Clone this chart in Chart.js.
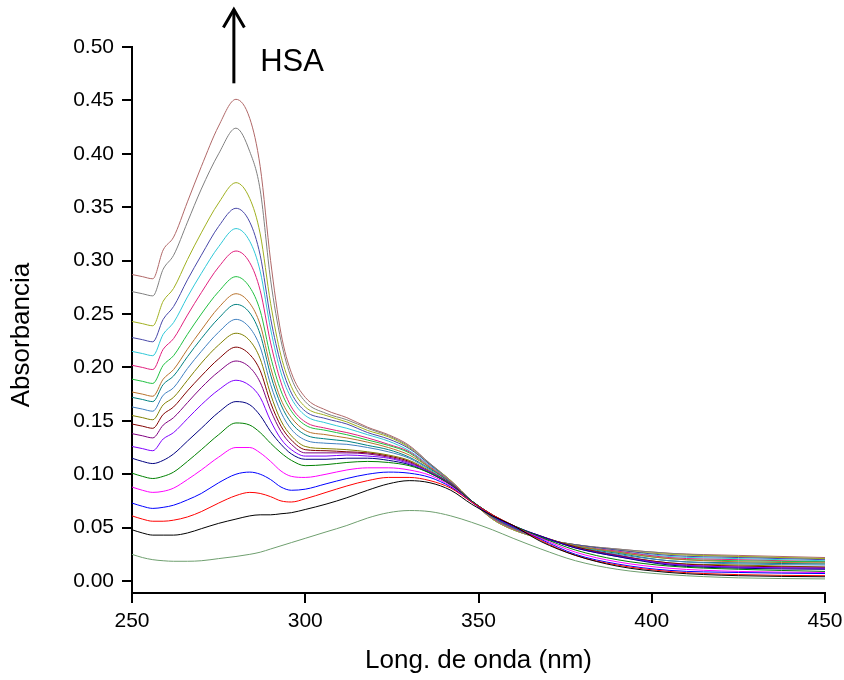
<!DOCTYPE html>
<html>
<head>
<meta charset="utf-8">
<title>Absorbancia vs longitud de onda</title>
<script src="https://cdn.jsdelivr.net/npm/chart.js@4.4.1/dist/chart.umd.min.js"></script>
<style>
  html, body { margin: 0; padding: 0; background: #fff; }
  #wrap { width: 844px; height: 680px; }
</style>
</head>
<body>
<div id="wrap"><canvas id="chart" width="844" height="680"></canvas></div>
<script>
// wavelength grid (nm) shared by every spectrum
const wavelength = [250, 253, 256, 259, 262, 266, 270, 275, 280, 284, 287, 290, 293, 296, 300,
  306, 312, 318, 324, 330, 336, 342, 348, 354, 360, 368, 378, 390, 405, 425, 450];

// spectra, from the ligand alone (bottom) up to the highest HSA amount (top)
const absLigand = [.025,.022,.020,.019,.0185,.0185,.019,.021,.023,.025, .027,.030,.033,.036,.040, .046,.052,.059,.064,.066, .065,.061,.055,.048,.040, .030,.019,.011,.006,.003, .002];
const absBlack  = [.048,.045,.043,.043,.043,.045,.049,.054,.058,.061, .062,.062,.063,.064,.067, .072,.078,.085,.091,.094, .092,.085,.072,.061,.052, .037,.024,.014,.008,.005, .004];
const absRed    = [.061,.058,.056,.056,.057,.060,.065,.073,.080,.083, .082,.079,.075,.074,.077, .083,.089,.094,.097,.097, .094,.087,.074,.062,.052, .038,.024,.015,.009,.006, .005];
const absBlue   = [.073,.070,.068,.069,.071,.076,.082,.092,.100,.102, .100,.095,.088,.085,.086, .091,.096,.100,.102,.101, .097,.088,.074,.061,.051, .039,.025,.016,.010,.008, .007];
const absMagenta= [.088,.085,.083,.084,.087,.095,.104,.116,.125,.125, .120,.112,.103,.098,.097, .100,.104,.106,.106,.104, .099,.089,.074,.061,.051, .040,.027,.018,.012,.009, .008];
const absGreen  = [.101,.098,.096,.098,.102,.112,.123,.137,.148,.146, .139,.129,.120,.113,.108, .109,.111,.112,.111,.108, .101,.090,.075,.062,.052, .041,.029,.020,.014,.011, .009];
const absNavy   = [.115,.112,.110,.113,.119,.131,.143,.158,.168,.165, .155,.140,.128,.119,.114, .114,.115,.115,.113,.109, .101,.090,.075,.062,.052, .042,.031,.023,.015,.012, .011];
const absViolet = [.126,.124,.122,.133,.139,.152,.165,.179,.188,.183, .172,.150,.133,.123,.117, .117,.118,.117,.115,.110, .102,.090,.075,.062,.052, .042,.031,.023,.016,.013, .012];
const absPurple = [.138,.136,.134,.146,.153,.167,.181,.196,.206,.200, .186,.160,.140,.128,.120, .120,.120,.119,.116,.111, .102,.091,.075,.061,.051, .042,.031,.024,.016,.013, .012];
const absWine   = [.147,.145,.143,.156,.163,.178,.192,.208,.219,.212, .197,.167,.145,.132,.123, .122,.121,.120,.117,.112, .102,.091,.075,.061,.051, .042,.032,.024,.017,.014, .013];
const absOlive  = [.155,.153,.151,.165,.172,.188,.204,.221,.232,.225, .208,.175,.150,.136,.126, .124,.123,.121,.118,.113, .103,.091,.075,.061,.051, .042,.032,.024,.017,.015, .013];
const absSteel  = [.163,.161,.159,.174,.181,.199,.215,.233,.245,.237, .219,.184,.158,.142,.132, .129,.128,.125,.121,.115, .104,.091,.075,.061,.051, .041,.032,.025,.019,.016, .015];
const absTeal   = [.172,.170,.168,.184,.192,.210,.227,.246,.259,.251, .231,.193,.165,.148,.137, .133,.131,.127,.123,.116, .105,.092,.075,.060,.050, .041,.032,.026,.019,.017, .016];
const absOrange = [.177,.175,.173,.189,.198,.217,.235,.256,.269,.260, .240,.200,.170,.153,.141, .137,.134,.130,.125,.118, .106,.092,.075,.060,.050, .041,.033,.027,.021,.018, .017];
const absLime   = [.189,.187,.185,.202,.211,.231,.250,.271,.285,.275, .253,.210,.178,.159,.146, .141,.137,.132,.127,.120, .106,.092,.075,.060,.050, .041,.033,.027,.021,.019, .018];
const absPink   = [.202,.200,.198,.217,.227,.249,.270,.294,.309,.298, .272,.223,.186,.163,.149, .143,.139,.134,.128,.121, .107,.093,.075,.059,.049, .041,.033,.028,.022,.020, .018];
const absCyan   = [.215,.213,.211,.231,.242,.266,.288,.313,.330,.318, .290,.236,.195,.171,.155, .148,.143,.137,.131,.122, .108,.093,.075,.059,.049, .041,.033,.028,.023,.021, .019];
const absIndigo = [.228,.226,.224,.245,.257,.282,.305,.332,.349,.336, .305,.246,.203,.176,.159, .152,.147,.139,.133,.124, .109,.093,.075,.059,.049, .040,.034,.029,.024,.022, .020];
const absYellow = [.243,.241,.239,.262,.274,.301,.326,.354,.373,.358, .325,.260,.211,.182,.163, .155,.149,.141,.135,.125, .109,.094,.075,.058,.048, .040,.034,.029,.025,.023, .021];
const absGray   = [.271,.269,.267,.292,.305,.336,.367,.400,.424,.402, .366,.282,.225,.190,.168, .157,.151,.143,.136,.126, .110,.094,.075,.058,.048, .040,.034,.030,.026,.023, .021];
const absRose   = [.287,.285,.283,.310,.322,.355,.388,.426,.451,.433, .388,.300,.232,.195,.172, .160,.153,.144,.137,.127, .110,.094,.075,.058,.048, .040,.034,.030,.026,.024, .022];

const spectra = [absLigand, absBlack, absRed, absBlue, absMagenta, absGreen, absNavy, absViolet,
  absPurple, absWine, absOlive, absSteel, absTeal, absOrange, absLime, absPink, absCyan,
  absIndigo, absYellow, absGray, absRose];
const colors = ['#6f9f6f', '#000000', '#ff0000', '#0000ff', '#ff00ff', '#008000', '#000080', '#8000ff',
  '#800080', '#800000', '#808000', '#4080c0', '#008080', '#b8722c', '#20c040', '#e0207e', '#30c8d8',
  '#4848a8', '#a0b020', '#808080', '#b06868'];

const xTicks = [250, 300, 350, 400, 450];
const yTicks = [0, 0.05, 0.10, 0.15, 0.20, 0.25, 0.30, 0.35, 0.40, 0.45, 0.50];
const xTitle = "Long. de onda (nm)";
const yTitle = "Absorbancia";
const arrowLabel = "HSA";

const FONT = '"Liberation Sans", Arial, Helvetica, sans-serif';

const datasets = spectra.map((vals, i) => ({
  data: vals.map((v, k) => ({ x: wavelength[k], y: v })),
  borderColor: colors[i],
  borderWidth: 1,
  pointRadius: 0,
  fill: false,
  cubicInterpolationMode: 'monotone'
}));

// axis titles, arrow and "HSA" label
const decor = {
  id: 'decor',
  afterDraw(chart){
    const { ctx, chartArea, scales: { x, y } } = chart;
    ctx.save();
    ctx.fillStyle = '#000';
    ctx.strokeStyle = '#000';
    ctx.font = '26px ' + FONT;
    ctx.textAlign = 'center';
    ctx.textBaseline = 'middle';
    ctx.fillText(xTitle, (chartArea.left + chartArea.right) / 2, chartArea.bottom + 68);

    ctx.save();
    ctx.translate(22, chartArea.top + 288);
    ctx.rotate(-Math.PI / 2);
    ctx.fillText(yTitle, 0, 0);
    ctx.restore();

    // arrow
    const ax = x.getPixelForValue(279.4);
    const top = y.getPixelForValue(0.536);
    const bot = y.getPixelForValue(0.466);
    ctx.lineWidth = 3;
    ctx.lineCap = 'butt';
    ctx.beginPath();
    ctx.moveTo(ax, bot);
    ctx.lineTo(ax, top + 1);
    ctx.stroke();
    ctx.beginPath();
    ctx.moveTo(ax - 10.5, top + 19);
    ctx.lineTo(ax, top + 1);
    ctx.lineTo(ax + 10.5, top + 19);
    ctx.stroke();

    ctx.font = '31px ' + FONT;
    ctx.textAlign = 'left';
    ctx.textBaseline = 'alphabetic';
    ctx.fillText(arrowLabel, x.getPixelForValue(287), y.getPixelForValue(0.4775));
    ctx.restore();
  }
};

new Chart(document.getElementById('chart'), {
  type: 'line',
  data: { datasets },
  options: {
    responsive: false,
    animation: false,
    layout: { padding: { top: 47, right: 19, left: 0, bottom: 0 } },
    plugins: { legend: { display: false }, tooltip: { enabled: false } },
    scales: {
      x: {
        type: 'linear',
        min: 250,
        max: 450,
        afterBuildTicks: s => { s.ticks = xTicks.map(v => ({ value: v })); },
        afterFit: s => { s.height = 87; s.paddingLeft = 0; s.paddingRight = 0; },
        grid: { drawOnChartArea: false, drawTicks: true, tickLength: 10, color: '#000', lineWidth: 2 },
        border: { display: true, color: '#000', width: 2 },
        ticks: { color: '#000', font: { size: 21, family: FONT }, padding: 6, maxRotation: 0 }
      },
      y: {
        type: 'linear',
        min: -0.0112,
        max: 0.5,
        afterBuildTicks: s => { s.ticks = yTicks.map(v => ({ value: v })); },
        afterFit: s => { s.width = 132; s.paddingTop = 0; s.paddingBottom = 0; },
        grid: { drawOnChartArea: false, drawTicks: true, tickLength: 10, color: '#000', lineWidth: 2 },
        border: { display: true, color: '#000', width: 2 },
        ticks: { color: '#000', font: { size: 21, family: FONT }, padding: 8, callback: v => Number(v).toFixed(2) }
      }
    }
  },
  plugins: [decor]
});
</script>
</body>
</html>
